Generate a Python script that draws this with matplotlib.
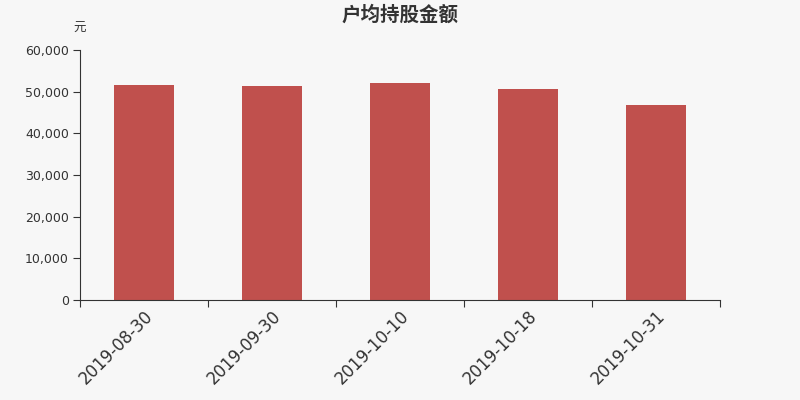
import matplotlib
matplotlib.use('Agg')
import matplotlib.pyplot as plt
import numpy as np

plt.rcParams['font.family'] = ['DejaVu Sans', 'Noto Sans CJK SC']

# data
dates = ['2019-08-30', '2019-09-30', '2019-10-10', '2019-10-18', '2019-10-31']
amount = [51600, 51450, 52080, 50640, 46700]

bg = '#f7f7f7'
txt = '#333333'

fig = plt.figure(figsize=(8, 4), dpi=100, facecolor=bg)
ax = fig.add_axes([0.1, 0.25, 0.8, 0.625], facecolor=bg)

x = np.arange(len(dates))
ax.bar(x, amount, width=0.47, color='#c0504d', zorder=2)

ax.set_xlim(-0.5, len(dates) - 0.5)
ax.set_ylim(0, 60000)
ax.set_yticks(np.arange(0, 60001, 10000))
ax.set_yticklabels([f'{v:,}' for v in range(0, 60001, 10000)], fontsize=9, color=txt)

# ticks on category boundaries, labels at centres
ax.set_xticks(np.arange(-0.5, len(dates), 1.0))
ax.set_xticklabels([])
ax.set_xticks(x, minor=True)
ax.set_xticklabels(dates, minor=True, rotation=45, ha='right', va='top',
                   rotation_mode='anchor', fontsize=12, color=txt)
ax.tick_params(axis='x', which='minor', length=0, pad=5)
ax.tick_params(axis='x', which='major', length=5, color=txt)
ax.tick_params(axis='y', length=5, color=txt, pad=3)

for s in ['top', 'right']:
    ax.spines[s].set_visible(False)
for s in ['left', 'bottom']:
    ax.spines[s].set_color(txt)

fig.text(0.5, 0.9625, '户均持股金额', ha='center', va='center',
         fontsize=14, fontweight='bold', color=txt,
         family=['Noto Sans CJK SC', 'DejaVu Sans'])
fig.text(0.1, 0.928, '元', ha='center', va='center', fontsize=9, color=txt)

fig.savefig('out.png', dpi=100, facecolor=bg)
